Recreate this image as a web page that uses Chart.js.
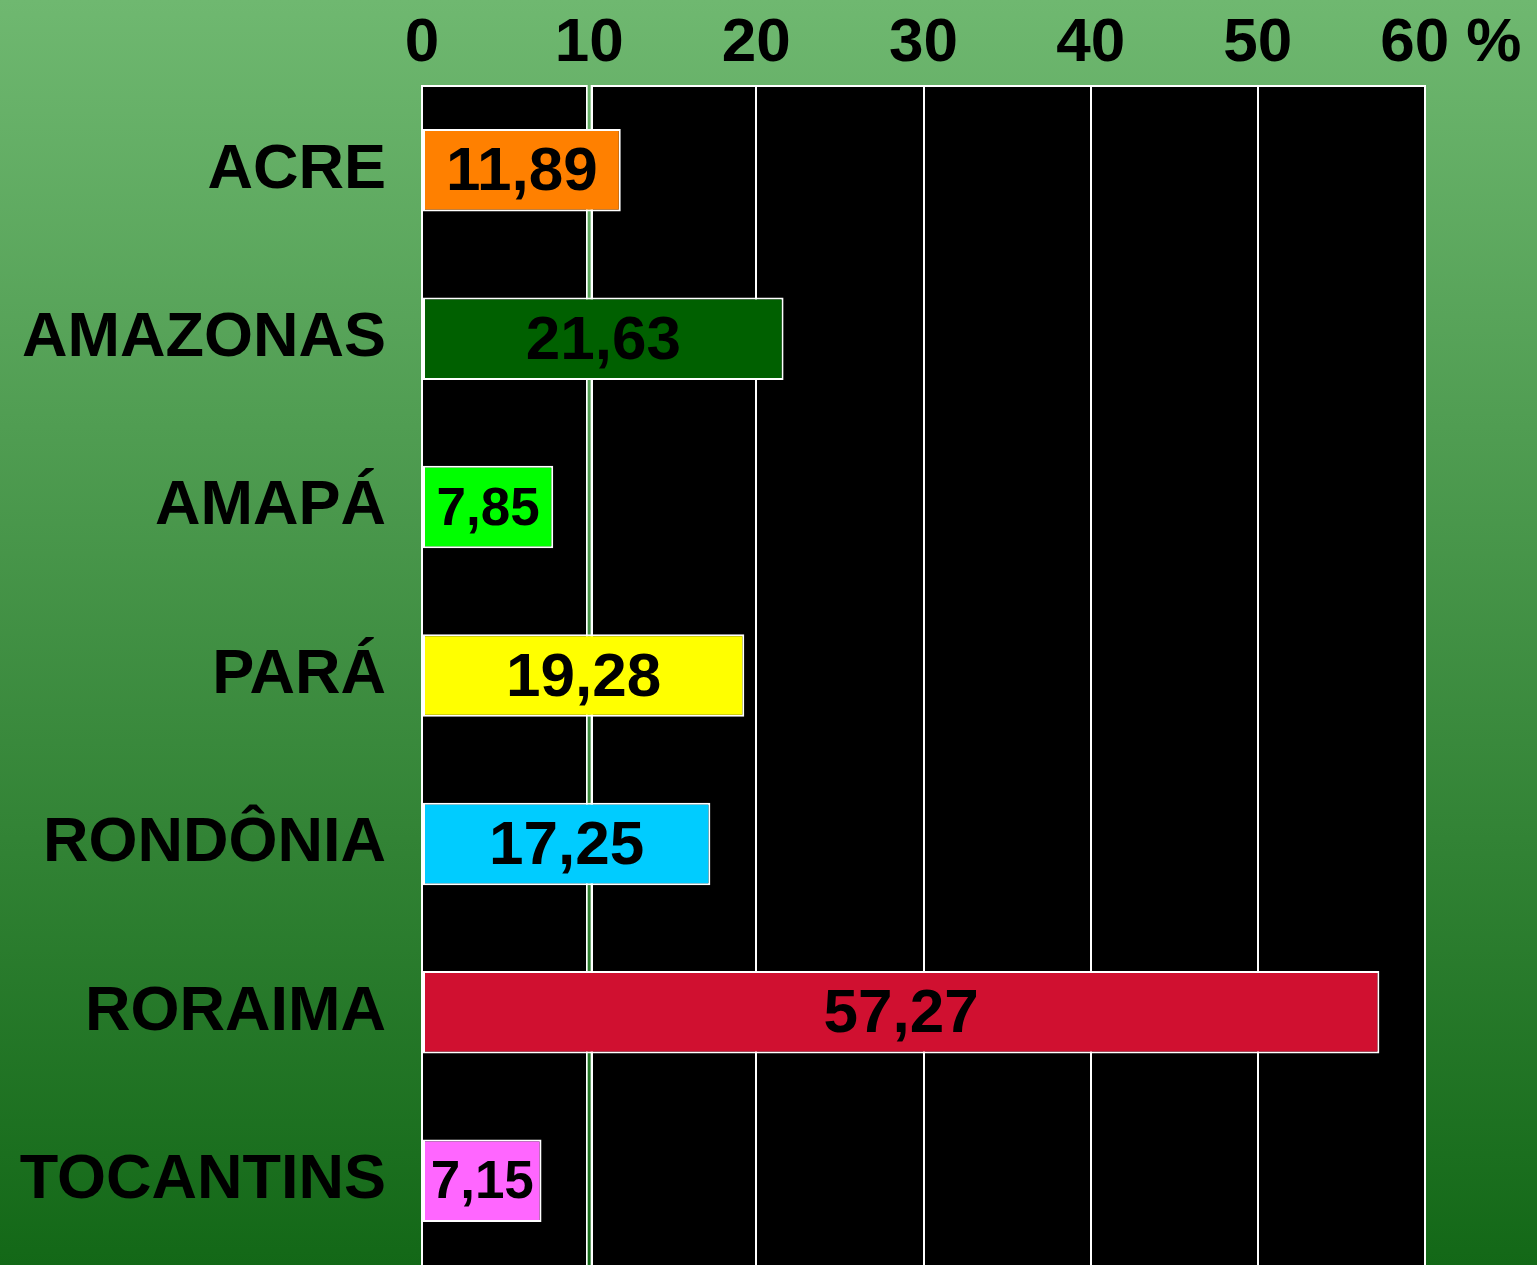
<!DOCTYPE html>
<html>
<head>
<meta charset="utf-8">
<script src="https://cdn.jsdelivr.net/npm/chart.js@4.4.1/dist/chart.umd.min.js"></script>
<style>
  html, body { margin: 0; padding: 0; overflow: hidden; }
  #wrap { width: 1537px; height: 1265px; }
</style>
</head>
<body>
<div id="wrap"><canvas id="myChart"></canvas></div>
<script>
// datos
const estados = ['ACRE', 'AMAZONAS', 'AMAPÁ', 'PARÁ', 'RONDÔNIA', 'RORAIMA', 'TOCANTINS'];
const porcentajes = [11.89, 21.63, 7.85, 19.28, 17.25, 57.27, 7.15];
const colores = ['#FF8000', '#006000', '#00FF00', '#FFFF00', '#00CCFF', '#D01030', '#FF66FF'];
const ticksX = [0, 10, 20, 30, 40, 50, 60];

const FONT = "'Liberation Sans', Arial, Helvetica, sans-serif";

let fondo = null;

// fondo degradado + area negra
const fondoPlugin = {
    id: 'fondo',
    beforeDraw(chart) {
        const ctx = chart.ctx;
        const a = chart.chartArea;
        fondo = ctx.createLinearGradient(0, 0, 0, chart.height);
        fondo.addColorStop(0, '#6FB870');
        fondo.addColorStop(1, '#136817');
        ctx.save();
        ctx.fillStyle = fondo;
        ctx.fillRect(0, 0, chart.width, chart.height);
        ctx.fillStyle = '#000';
        ctx.fillRect(a.left, a.top, a.right - a.left, a.bottom - a.top);
        ctx.restore();
    },
    beforeDatasetsDraw(chart) {
        // linea doble en el 10
        const ctx = chart.ctx;
        const a = chart.chartArea;
        const x = chart.scales.x.getPixelForValue(10);
        ctx.save();
        ctx.fillStyle = fondo;
        ctx.fillRect(x - 1.5, a.top - 2, 3, a.bottom - a.top + 2);
        ctx.restore();
    }
};

// etiquetas dentro de las barras
const etiquetas = {
    id: 'etiquetas',
    afterDatasetsDraw(chart) {
        const ctx = chart.ctx;
        const meta = chart.getDatasetMeta(0);
        ctx.save();
        ctx.fillStyle = '#000';
        ctx.textAlign = 'center';
        ctx.textBaseline = 'middle';
        meta.data.forEach((bar, i) => {
            const v = porcentajes[i];
            const size = v < 10 ? 53 : 62;
            ctx.font = `bold ${size}px ${FONT}`;
            const texto = v.toFixed(2).replace('.', ',');
            const cx = (bar.base + bar.x) / 2;
            ctx.fillText(texto, cx, bar.y + 3);
        });
        ctx.restore();
    }
};

new Chart(document.getElementById('myChart'), {
    type: 'bar',
    data: {
        labels: estados,
        datasets: [{
            data: porcentajes,
            backgroundColor: colores,
            borderColor: '#FFFFFF',
            borderWidth: 2,
            borderSkipped: false,
            barPercentage: 0.49,
            categoryPercentage: 1
        }]
    },
    options: {
        indexAxis: 'y',
        responsive: true,
        maintainAspectRatio: false,
        animation: false,
        layout: { padding: { left: 0, right: 112, top: 0, bottom: 0 } },
        plugins: {
            legend: { display: false },
            tooltip: { enabled: false }
        },
        scales: {
            x: {
                position: 'top',
                min: 0,
                max: 60,
                afterBuildTicks: s => { s.ticks = ticksX.map(v => ({ value: v })); },
                afterFit: s => { s.height = 86; },
                grid: {
                    color: '#FFFFFF',
                    lineWidth: c => (c.tick && c.tick.value === 10) ? 7 : 2,
                    drawTicks: false
                },
                border: { display: true, color: '#FFFFFF', width: 2 },
                ticks: {
                    color: '#000',
                    padding: 5,
                    autoSkip: false,
                    maxRotation: 0,
                    font: { family: FONT, size: 62, weight: 'bold' },
                    callback: v => v === 60 ? '   60 %' : String(v)
                }
            },
            y: {
                afterFit: s => {
                    s.width = 422;
                    s.paddingTop = 0;
                    s.paddingBottom = 0;
                },
                grid: { display: false, drawTicks: false },
                border: { display: true, color: '#FFFFFF', width: 2 },
                ticks: {
                    color: '#000',
                    padding: 36,
                    font: { family: FONT, size: 63, weight: 'bold' }
                }
            }
        }
    },
    plugins: [fondoPlugin, etiquetas]
});
</script>
</body>
</html>
